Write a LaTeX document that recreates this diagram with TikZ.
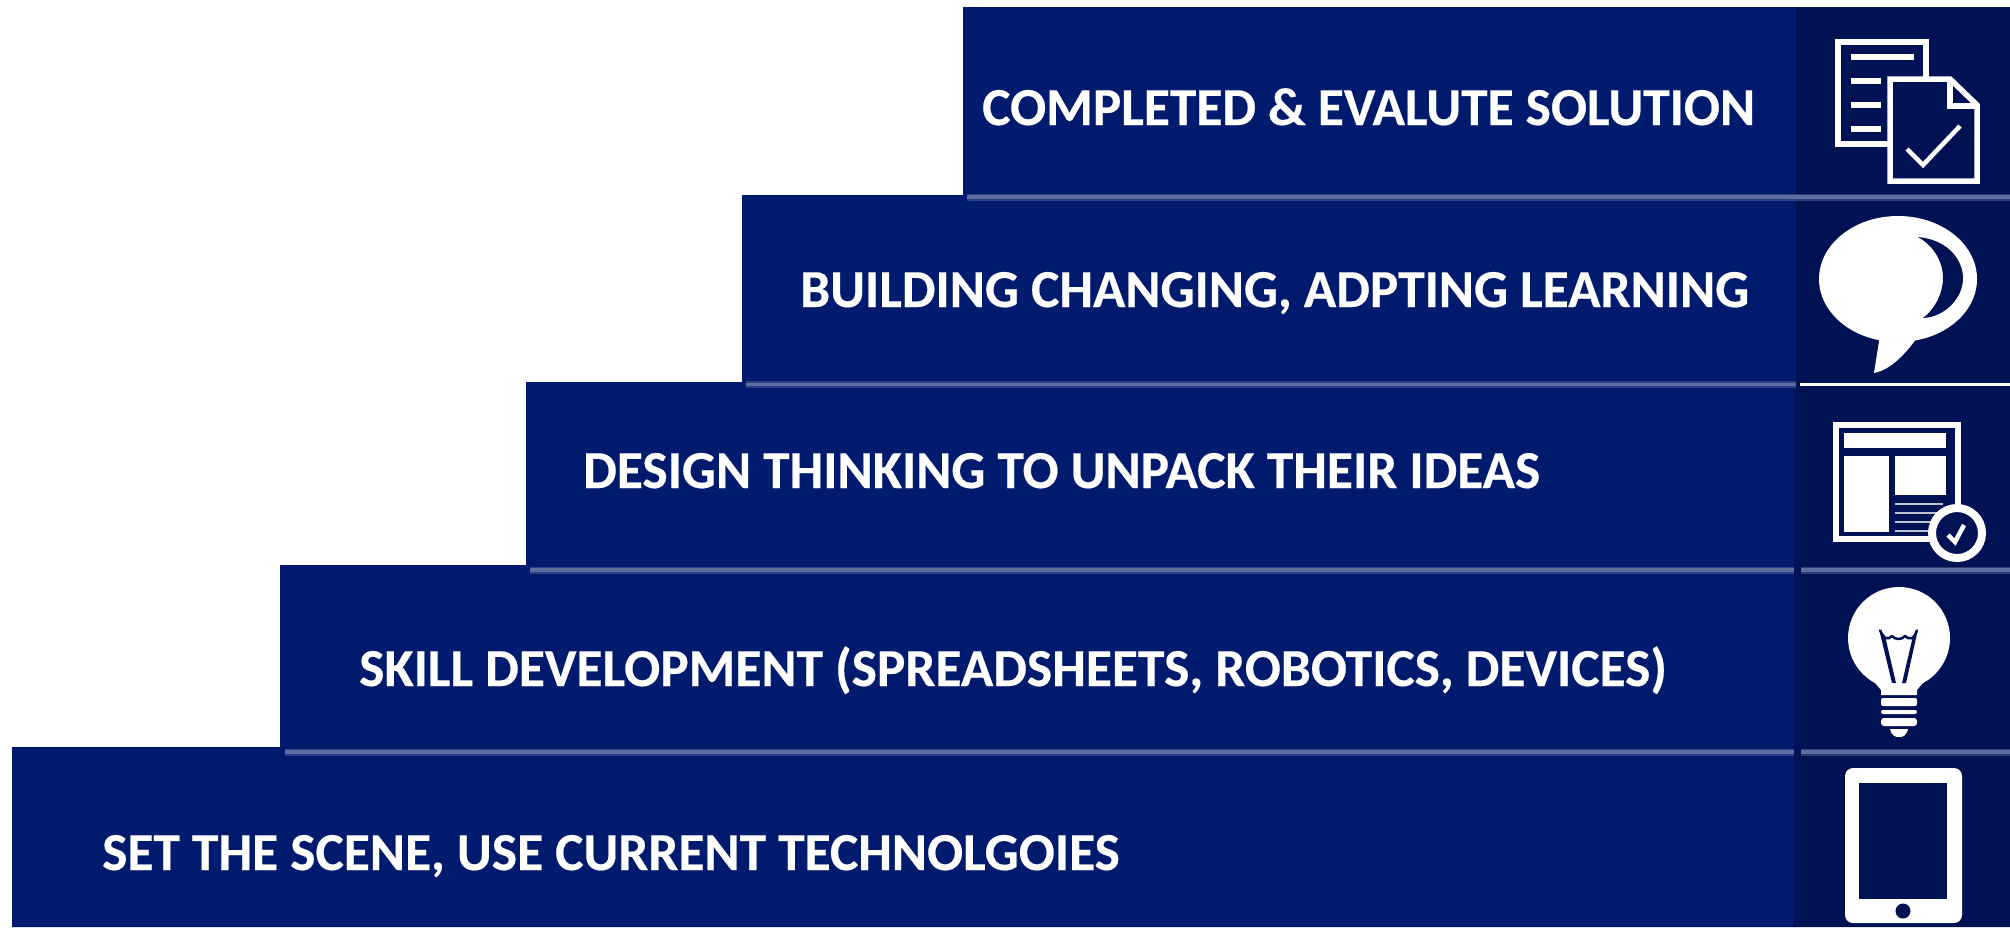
\documentclass[tikz,border=0pt]{standalone}
\usepackage{fontspec}
\setmainfont{Carlito}[BoldFeatures={FakeBold=0.35}]
\definecolor{stepblue}{HTML}{001A6E}
\definecolor{iconblue}{HTML}{001253}
\definecolor{sepblue}{HTML}{5F6E9F}
\tikzset{
  steplabel/.style={anchor=base west,inner sep=0pt,text=white,font=\fontsize{53.4}{60}\selectfont\bfseries},
  seperator/.style={draw=sepblue,line width=3.5pt,preaction={draw=sepblue,draw opacity=.45,line width=7pt}},
  iconline/.style={draw=white,line width=5.5pt},
  navyline/.style={draw=iconblue,line width=2.5pt}
}
\begin{document}
\begin{tikzpicture}[x=1pt,y=-1pt]
\useasboundingbox (0,0) rectangle (2010,927);
\fill[white] (0,0) rectangle (2010,927);
% stairs
\fill[stepblue] (12,927) -- (12,747) -- (280,747) -- (280,565) -- (526,565) -- (526,382) -- (742,382) -- (742,195) -- (963,195) -- (963,7) -- (1796,7) -- (1796,927) -- cycle;
% icon column
\fill[iconblue] (1796,7) -- (2010,7) -- (2010,927) -- (1794,927) -- (1794,390) -- (1796,390) -- cycle;
% separators
\draw[seperator] (967,197) -- (2010,197);
\draw[seperator] (746,384.5) -- (1796,384.5);
\draw[draw=white,line width=3pt] (1800,384) -- (2010,384);
\draw[seperator] (530,570) -- (1794,570);
\draw[seperator] (1801,570) -- (2010,570);
\draw[seperator] (285,752) -- (1794,752);
\draw[seperator] (1801,752) -- (2010,752);
% labels
\node[steplabel] (l1) at (102,870) {SET THE SCENE, USE CURRENT TECHNOLGOIES};
\node[steplabel] (l2) at (359,686) {SKILL DEVELOPMENT (SPREADSHEETS, ROBOTICS, DEVICES)};
\node[steplabel] (l3) at (583,488) {DESIGN THINKING TO UNPACK THEIR IDEAS};
\node[steplabel] (l4) at (800,307) {BUILDING CHANGING, ADPTING LEARNING};
\node[steplabel] (l5) at (982,125) {COMPLETED \& EVALUTE SOLUTION};
% icon: documents
\draw[iconline] (1926,78) -- (1926,42) -- (1838,42) -- (1838,144) -- (1890,144);
\draw[iconline] (1851,57) -- (1914,57);
\foreach \yy in {81,105,129} \draw[iconline] (1851,\yy) -- (1881,\yy);
\draw[iconline,line join=miter] (1890,79) -- (1950,79) -- (1977,105) -- (1977,181) -- (1890,181) -- cycle;
\draw[iconline] (1950,79) -- (1950,106) -- (1977,106);
\draw[iconline,line width=4.5pt] (1907,149) -- (1923,165) -- (1960,126);
% icon: speech bubble
\fill[white] (1898,279) ellipse[x radius=79,y radius=63];
\fill[white] (1880,335) -- (1874,373) .. controls (1890,370) and (1905,355) .. (1919,335) -- cycle;
\fill[iconblue] (1918,237) .. controls (1950,240) and (1963,262) .. (1963,278) .. controls (1963,298) and (1945,317) .. (1923,318) .. controls (1936,308) and (1943,292) .. (1943,278) .. controls (1943,262) and (1934,246) .. (1918,237) -- cycle;
% icon: page layout
\draw[iconline] (1836,425) rectangle (1958,539);
\fill[white] (1844,433) rectangle (1946,448);
\fill[white] (1844,456) rectangle (1889,532);
\fill[white] (1895,456) rectangle (1946,495);
\foreach \yy in {504,513,522,531} \draw[draw=white!75!iconblue,line width=2.5pt] (1895,\yy) -- (1943,\yy);
\draw[draw=white,fill=iconblue,line width=8pt] (1957,533) circle[radius=25];
\draw[draw=white,line width=4.5pt] (1948,535) -- (1955,542) -- (1964,525);
% icon: bulb
\fill[white] (1899,638) circle[radius=51];
\fill[white] (1866,672) -- (1881,690) -- (1881,695) -- (1917,695) -- (1917,690) -- (1932,672) -- cycle;
\fill[white,rounded corners=2pt] (1881,698) rectangle (1917,706);
\fill[white,rounded corners=2pt] (1881,710) rectangle (1917,714);
\fill[white,rounded corners=3pt] (1881,718) rectangle (1917,726);
\fill[white] (1890,729) -- (1908,729) .. controls (1906,736) and (1903,737) .. (1899,737) .. controls (1895,737) and (1892,736) .. (1890,729) -- cycle;
\fill[iconblue] (1879,629) -- (1892,683) -- (1896,683) -- (1885,636) -- cycle;
\fill[iconblue] (1918,629) -- (1906,683) -- (1902,683) -- (1913,636) -- cycle;
\draw[navyline,line join=round] (1880,630) .. controls (1884,640) and (1888,640) .. (1892,636) .. controls (1895,640) and (1902,640) .. (1905,636) .. controls (1909,640) and (1914,640) .. (1917,630);
% icon: tablet
\fill[white,rounded corners=8pt] (1845,768) rectangle (1962,923);
\fill[iconblue] (1859,783) rectangle (1947,899);
\fill[iconblue] (1903,911) circle[radius=7.5];
\end{tikzpicture}
\end{document}
